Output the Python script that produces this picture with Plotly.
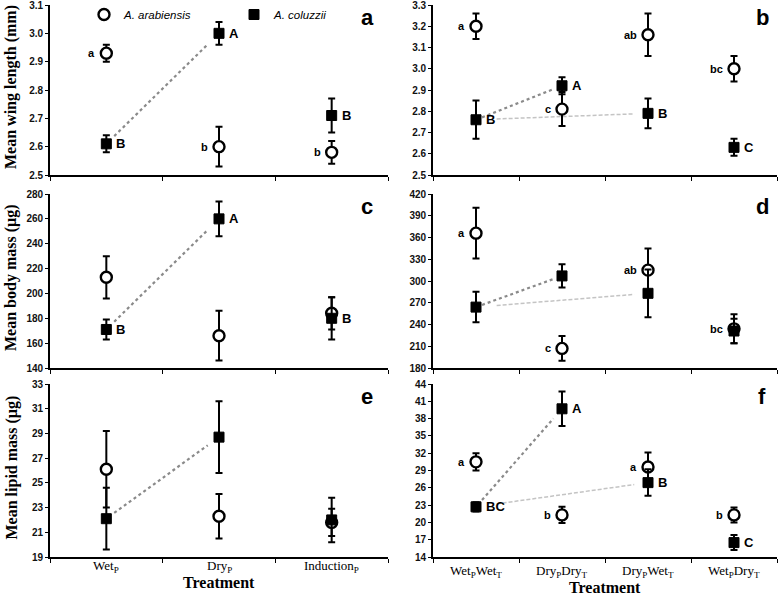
import plotly.graph_objects as go

W, H = 778, 595

# ---------------- data ----------------
cats_left = ["Wet<sub>P</sub>", "Dry<sub>P</sub>", "Induction<sub>P</sub>"]
cats_right = ["Wet<sub>P</sub>Wet<sub>T</sub>", "Dry<sub>P</sub>Dry<sub>T</sub>",
              "Dry<sub>P</sub>Wet<sub>T</sub>", "Wet<sub>P</sub>Dry<sub>T</sub>"]

# panel a: wing length, larval treatments
a_arab = [2.93, 2.60, 2.58]
a_arab_err = [0.03, 0.07, 0.04]
a_colu = [2.61, 3.00, 2.71]
a_colu_err = [0.03, 0.04, 0.06]
a_arab_lab = ["a", "b", "b"]
a_colu_lab = ["B", "A", "B"]

# panel b: wing length, larval x adult treatments
b_arab = [3.20, 2.81, 3.16, 3.00]
b_arab_err = [0.06, 0.08, 0.10, 0.06]
b_colu = [2.76, 2.92, 2.79, 2.63]
b_colu_err = [0.09, 0.04, 0.07, 0.04]
b_arab_lab = ["a", "c", "ab", "bc"]
b_colu_lab = ["B", "A", "B", "C"]

# panel c: body mass, larval treatments
c_arab = [213, 166, 184]
c_arab_err = [17, 20, 13]
c_colu = [171, 260, 180]
c_colu_err = [8, 14, 17]
c_arab_lab = ["", "", ""]
c_colu_lab = ["B", "A", "B"]

# panel d: body mass, larval x adult treatments
d_arab = [366, 207, 315, 234]
d_arab_err = [35, 17, 30, 20]
d_colu = [264, 307, 283, 231]
d_colu_err = [21, 16, 33, 17]
d_arab_lab = ["a", "c", "ab", "bc"]
d_colu_lab = ["", "", "", ""]

# panel e: lipid mass, larval treatments
e_arab = [26.1, 22.3, 21.8]
e_arab_err = [3.1, 1.8, 1.1]
e_colu = [22.1, 28.7, 22.0]
e_colu_err = [2.5, 2.9, 1.8]
e_arab_lab = ["", "", ""]
e_colu_lab = ["", "", ""]

# panel f: lipid mass, larval x adult treatments
f_arab = [30.5, 21.3, 29.6, 21.3]
f_arab_err = [1.5, 1.4, 2.5, 1.3]
f_colu = [22.7, 39.7, 26.9, 16.5]
f_colu_err = [0.8, 3.0, 2.3, 1.3]
f_arab_lab = ["a", "b", "a", "b"]
f_colu_lab = ["BC", "A", "B", "C"]

# y tick labels per panel
a_ticks = [2.5, 2.6, 2.7, 2.8, 2.9, 3.0, 3.1]
b_ticks = [2.5, 2.6, 2.7, 2.8, 2.9, 3.0, 3.1, 3.2, 3.3]
c_ticks = [140, 160, 180, 200, 220, 240, 260, 280]
d_ticks = [180, 210, 240, 270, 300, 330, 360, 390, 420]
e_ticks = [19, 21, 23, 25, 27, 29, 31, 33]
f_ticks = [14, 17, 20, 23, 26, 29, 32, 35, 38, 41, 44]

y_titles = ["Mean wing length (mm)", "Mean body mass (µg)", "Mean lipid mass (µg)"]
panel_letters = ["a", "b", "c", "d", "e", "f"]
legend_names = ["<i>A. arabiensis</i>", "<i>A. coluzzii</i>"]

# ---------------- layout geometry (pixels) ----------------
col_px = {0: (50, 388), 1: (433, 777)}
row_px = {0: (5, 175), 1: (194, 368), 2: (384, 557)}

sans = "Liberation Sans, Arial"
serif = "Liberation Serif, Times New Roman"


def xd(c):
    a, b = col_px[c]
    return [a / W, b / W]


def yd(r):
    t, b = row_px[r]
    return [1 - b / H, 1 - t / H]


def seg(x0, y0, x1, y1, t0, t1):
    return ([x0 + (x1 - x0) * t0, x0 + (x1 - x0) * t1],
            [y0 + (y1 - y0) * t0, y0 + (y1 - y0) * t1])


panels = [
    ("a", 0, 0, a_arab, a_arab_err, a_colu, a_colu_err, a_arab_lab, a_colu_lab, a_ticks),
    ("b", 0, 1, b_arab, b_arab_err, b_colu, b_colu_err, b_arab_lab, b_colu_lab, b_ticks),
    ("c", 1, 0, c_arab, c_arab_err, c_colu, c_colu_err, c_arab_lab, c_colu_lab, c_ticks),
    ("d", 1, 1, d_arab, d_arab_err, d_colu, d_colu_err, d_arab_lab, d_colu_lab, d_ticks),
    ("e", 2, 0, e_arab, e_arab_err, e_colu, e_colu_err, e_arab_lab, e_colu_lab, e_ticks),
    ("f", 2, 1, f_arab, f_arab_err, f_colu, f_colu_err, f_arab_lab, f_colu_lab, f_ticks),
]

fig = go.Figure()
layout = dict(
    template="none",
    width=W, height=H, margin=dict(l=0, r=0, t=0, b=0, pad=0),
    paper_bgcolor="white", plot_bgcolor="white",
    font=dict(family=sans, color="black"),
    annotations=[],
)
ann = layout["annotations"]

for i, (key, r, c, arab, arab_e, colu, colu_e, alab, clab, ticks) in enumerate(panels):
    idx = i + 1
    xa = "x" if idx == 1 else f"x{idx}"
    ya = "y" if idx == 1 else f"y{idx}"
    xname = "xaxis" if idx == 1 else f"xaxis{idx}"
    yname = "yaxis" if idx == 1 else f"yaxis{idx}"
    cats = cats_left if c == 0 else cats_right
    n = len(cats)
    xs = [k + 0.5 for k in range(n)]

    # connector lines between A. coluzzii means
    lx, ly = seg(xs[0], colu[0], xs[1], colu[1], 0.07, 0.9)
    fig.add_trace(go.Scatter(x=lx, y=ly, xaxis=xa, yaxis=ya, mode="lines",
                             line=dict(color="#8a8a8a", width=2.2, dash="dot"),
                             showlegend=False, hoverinfo="skip"))
    if c == 1:
        lx, ly = seg(xs[0], colu[0], xs[2], colu[2], 0.12, 0.92)
        fig.add_trace(go.Scatter(x=lx, y=ly, xaxis=xa, yaxis=ya, mode="lines",
                                 line=dict(color="#c4c4c4", width=1.5, dash="4px,2px"),
                                 showlegend=False, hoverinfo="skip"))

    # A. arabiensis
    fig.add_trace(go.Scatter(
        x=xs, y=arab, xaxis=xa, yaxis=ya, mode="markers",
        name=legend_names[0], showlegend=(idx == 1),
        marker=dict(symbol="circle", size=11, color="white",
                    line=dict(color="black", width=2.4)),
        error_y=dict(type="data", array=arab_e, color="black", thickness=2, width=3.5),
    ))
    # A. coluzzii
    fig.add_trace(go.Scatter(
        x=xs, y=colu, xaxis=xa, yaxis=ya, mode="markers",
        name=legend_names[1], showlegend=(idx == 1),
        marker=dict(symbol="square", size=10, color="black",
                    line=dict(color="black", width=1)),
        error_y=dict(type="data", array=colu_e, color="black", thickness=2, width=3.5),
    ))

    # significance letters
    for k in range(n):
        if alab[k]:
            ann.append(dict(text=f"<b>{alab[k]}</b>", xref=xa, yref=ya, x=xs[k], y=arab[k],
                            xanchor="right", yanchor="middle", xshift=-9, showarrow=False,
                            font=dict(family=sans, size=11, color="black")))
        if clab[k]:
            ann.append(dict(text=f"<b>{clab[k]}</b>", xref=xa, yref=ya, x=xs[k], y=colu[k],
                            xanchor="left", yanchor="middle", xshift=8, showarrow=False,
                            font=dict(family=sans, size=13, color="black")))

    # category labels (bottom row only)
    if r == 2:
        yoff = 566 if c == 0 else 571
        for k in range(n):
            ann.append(dict(text=cats[k], xref=xa, yref="paper", x=xs[k], y=1 - yoff / H,
                            xanchor="center", yanchor="middle", showarrow=False,
                            font=dict(family=serif, size=13, color="black")))

    lo, hi = ticks[0], ticks[-1]
    pad = (hi - lo) * 1e-6
    layout[xname] = dict(
        domain=xd(c), anchor=ya, range=[0, n], showgrid=False, zeroline=False,
        showline=True, linecolor="black", linewidth=1.6, automargin=False,
        tickmode="linear", tick0=0, dtick=1, ticks="outside", ticklen=4,
        tickwidth=1.3, tickcolor="black", showticklabels=False,
        fixedrange=True,
    )
    layout[yname] = dict(
        domain=yd(r), anchor=xa, range=[lo - pad, hi + pad], showgrid=False, zeroline=False,
        showline=True, linecolor="black", linewidth=1.6, automargin=False,
        tickmode="array", tickvals=ticks,
        ticktext=[f"{t:.1f}" if key in ("a", "b") else f"{t:d}" for t in ticks],
        ticks="outside", ticklen=3, tickwidth=1.3, tickcolor="black",
        ticklabeloverflow="allow",
        tickfont=dict(family=sans, size=10, color="#111", weight="bold"),
        fixedrange=True,
    )

    # panel letter
    ann.append(dict(
        text=f"<b>{panel_letters[i]}</b>", xref="paper", yref="paper",
        x=(367 if c == 0 else 762) / W, y=1 - (row_px[r][0] + 12) / H,
        xanchor="center", yanchor="middle", showarrow=False,
        font=dict(family=sans, size=22, color="black")))

# y-axis titles
for r in range(3):
    t, b = row_px[r]
    ann.append(dict(
        text=f"<b>{y_titles[r]}</b>", xref="paper", yref="paper",
        x=11 / W, y=1 - ((t + b) / 2 - 3) / H, textangle=-90,
        xanchor="center", yanchor="middle", showarrow=False,
        font=dict(family=serif, size=16, color="black")))

# x-axis titles
for c in range(2):
    a, b = col_px[c]
    ann.append(dict(
        text="<b>Treatment</b>", xref="paper", yref="paper",
        x=(a + b) / 2 / W, y=1 - (582 if c == 0 else 587) / H,
        xanchor="center", yanchor="middle", showarrow=False,
        font=dict(family=serif, size=16, color="black")))

layout["legend"] = dict(
    orientation="h", x=84 / W, y=1, xanchor="left", yanchor="top",
    bgcolor="rgba(0,0,0,0)", font=dict(family=sans, size=11.5, color="black"),
    entrywidth=105, entrywidthmode="pixels", itemwidth=30,
    tracegroupgap=0,
)

fig.update_layout(**layout)
fig.write_html(
    "out.html",
    config={"displayModeBar": False},
    post_script="document.body.style.margin='0';document.body.style.padding='0';",
)
